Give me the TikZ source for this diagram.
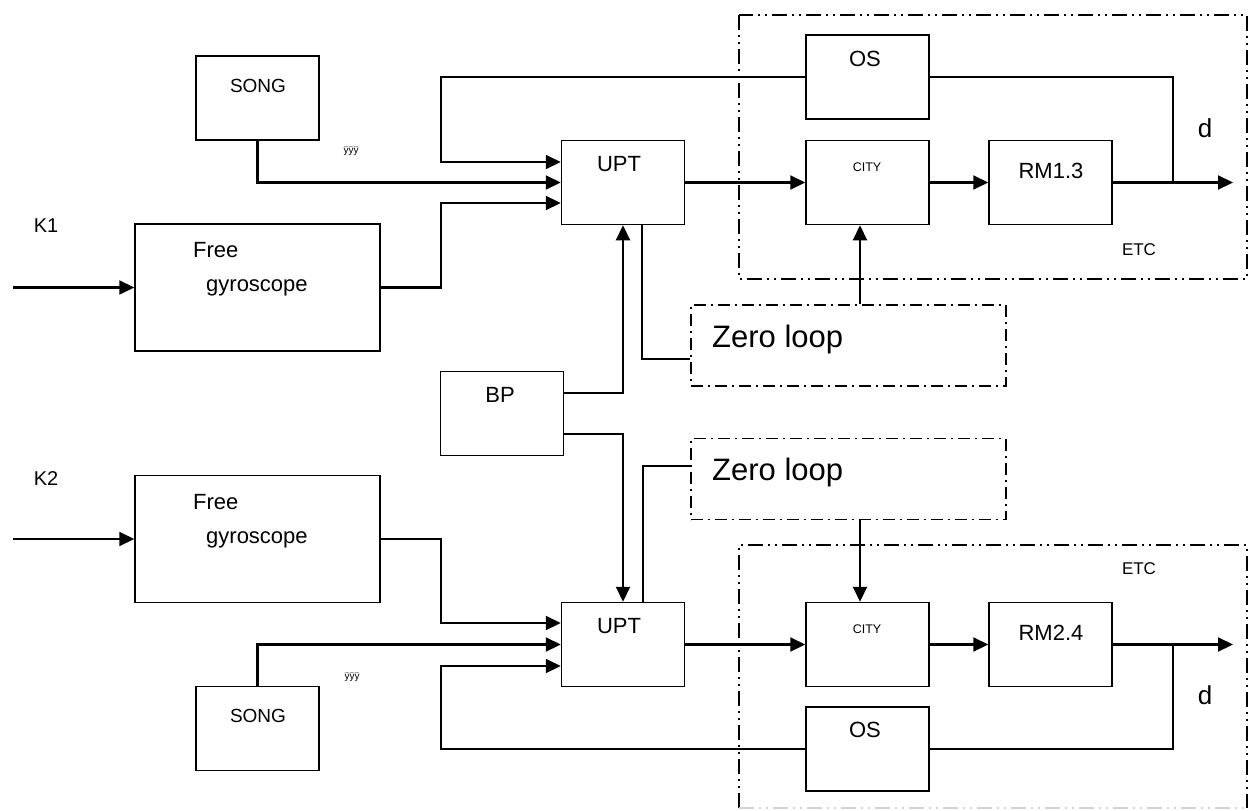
\documentclass[tikz,border=0pt]{standalone}
\usepackage{fontspec}
\setmainfont{Liberation Sans}
\usetikzlibrary{arrows.meta,positioning}

\begin{document}
\begin{tikzpicture}[
    x=1pt, y=-1pt,
    blk/.style={rectangle, draw, line width=1.5pt, minimum width=123pt,
                minimum height=84pt, inner sep=0pt},
    gyroblk/.style={blk, minimum width=245pt, minimum height=127pt},
    zbox/.style={rectangle, draw, line width=1.5pt, minimum width=315pt,
                 minimum height=81pt, inner sep=0pt,
                 dash pattern=on 12pt off 5pt on 2pt off 5pt},
    etcline/.style={line width=1.5pt,
                    dash pattern=on 15pt off 5pt on 2pt off 5pt on 2pt off 5pt},
    lbl/.style={inner sep=0pt, anchor=base, font=\fontsize{22}{26}\selectfont},
    wire/.style={line width=1.7pt},
    arrow/.style={-{Triangle[length=15pt,width=14pt]}, line width=2.1pt},
]
\useasboundingbox (0,0) rectangle (1253,811);

% ETC frames
\draw[etcline] (739,15) rectangle (1247,279);
\draw[etcline] (739,808) |- (1247,545) -- (1247,808);
\draw[etcline, gray!35] (739,808) -- (1247,808);

% channel 1
\node[blk] (song1) at (257.5,98) {};
\node[gyroblk] (gyro1) at (257.5,287.5) {};
\node[blk] (upt1) at (623,182.5) {};
\node[blk] (os1) at (867.5,77) {};
\node[blk] (city1) at (867.5,182.5) {};
\node[blk] (rm1) at (1050.5,182.5) {};
\node[zbox] (zl1) at (848.5,345.5) {};

% common
\node[blk] (bp) at (502,413.5) {};

% channel 2
\node[gyroblk] (gyro2) at (257.5,539) {};
\node[blk] (song2) at (257.5,728.5) {};
\node[blk] (upt2) at (623,644.5) {};
\node[blk] (city2) at (867.5,644.5) {};
\node[blk] (rm2) at (1050.5,644.5) {};
\node[blk] (os2) at (867.5,749) {};
\node[zbox] (zl2) at (848.5,479) {};

% labels
\node[lbl, font=\fontsize{19}{23}\selectfont] (song1t) at (258,92) {SONG};
\node[lbl, font=\fontsize{10}{12}\selectfont] (y1t) at (351,153) {ÿÿÿ};
\node[lbl, font=\fontsize{20}{24}\selectfont] (k1t) at (46,232) {K1};
\node[lbl, anchor=base west] (free1t) at (193,257) {Free};
\node[lbl, anchor=base west] (gyro1t) at (206,291.5) {gyroscope};
\node[lbl] (upt1t) at (619,171) {UPT};
\node[lbl] (os1t) at (865,66) {OS};
\node[lbl, font=\fontsize{12.5}{15}\selectfont] (city1t) at (867,171) {CITY};
\node[lbl] (rm1t) at (1051,178) {RM1.3};
\node[lbl, font=\fontsize{26}{30}\selectfont] (d1t) at (1205,137) {d};
\node[lbl, font=\fontsize{17}{20}\selectfont] (etc1t) at (1139,255) {ETC};
\node[lbl, anchor=base west, font=\fontsize{31}{35}\selectfont] (zl1t) at (712,347) {Zero loop};
\node[lbl] (bpt) at (500,402) {BP};
\node[lbl, anchor=base west, font=\fontsize{31}{35}\selectfont] (zl2t) at (712,480) {Zero loop};
\node[lbl, font=\fontsize{20}{24}\selectfont] (k2t) at (46,485) {K2};
\node[lbl, anchor=base west] (free2t) at (193,509) {Free};
\node[lbl, anchor=base west] (gyro2t) at (206,543) {gyroscope};
\node[lbl, font=\fontsize{17}{20}\selectfont] (etc2t) at (1139,574) {ETC};
\node[lbl] (upt2t) at (619,633) {UPT};
\node[lbl, font=\fontsize{12.5}{15}\selectfont] (city2t) at (867,633) {CITY};
\node[lbl] (rm2t) at (1051,640) {RM2.4};
\node[lbl, font=\fontsize{10}{12}\selectfont] (y2t) at (352,679) {ÿÿÿ};
\node[lbl, font=\fontsize{26}{30}\selectfont] (d2t) at (1205,704) {d};
\node[lbl, font=\fontsize{19}{23}\selectfont] (song2t) at (258,722) {SONG};
\node[lbl] (os2t) at (865,737) {OS};

% turning points
\coordinate (in1) at (13,287.5);
\coordinate (lp1) at (441,162);
\coordinate (gy1) at (441,203);
\coordinate (tap1) at (1173,182.5);
\coordinate (out1) at (1233,182.5);
\coordinate (zu1) at (642,359);
\coordinate (zc1) at (860,305);
\coordinate (bpa) at (623,393);
\coordinate (bpb) at (623,434);
\coordinate (zu2) at (643,466);
\coordinate (zc2) at (860,519);
\coordinate (in2) at (13,539);
\coordinate (gy2) at (441,623);
\coordinate (lp2) at (441,666);
\coordinate (tap2) at (1173,644.5);
\coordinate (out2) at (1233,644.5);

% channel 1 wiring
\draw[arrow] (in1) -- (gyro1.west);
\draw[arrow] (song1.south) |- (upt1.west);
\draw[arrow] (gyro1.east) -| (gy1) -- (gy1 -| upt1.west);
\draw[arrow] (os1.west) -| (lp1) -- (lp1 -| upt1.west);
\draw[wire] (tap1) |- (os1.east);
\draw[arrow] (upt1.east) -- (city1.west);
\draw[arrow] (city1.east) -- (rm1.west);
\draw[arrow] (rm1.east) -- (out1);
\draw[wire] (upt1.south -| zu1) -- (zu1) -- (zl1.west |- zu1);
\draw[arrow] (zl1.north -| zc1) -- (city1.south -| zc1);
\draw[arrow] (bp.east |- bpa) -- (bpa) -- (upt1.south -| bpa);

% channel 2 wiring
\draw[arrow] (bp.east |- bpb) -- (bpb) -- (upt2.north -| bpb);
\draw[wire] (upt2.north -| zu2) -- (zu2) -- (zl2.west |- zu2);
\draw[arrow] (zl2.south -| zc2) -- (city2.north -| zc2);
\draw[arrow] (in2) -- (gyro2.west);
\draw[arrow] (gyro2.east) -| (gy2) -- (gy2 -| upt2.west);
\draw[arrow] (song2.north) |- (upt2.west);
\draw[arrow] (os2.west) -| (lp2) -- (lp2 -| upt2.west);
\draw[wire] (tap2) |- (os2.east);
\draw[arrow] (upt2.east) -- (city2.west);
\draw[arrow] (city2.east) -- (rm2.west);
\draw[arrow] (rm2.east) -- (out2);
\end{tikzpicture}
\end{document}
